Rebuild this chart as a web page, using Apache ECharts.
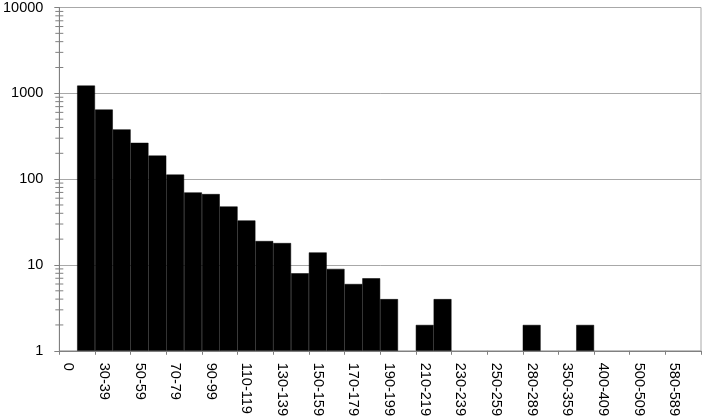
<!DOCTYPE html>
<html>
<head>
<meta charset="utf-8">
<script src="https://cdn.jsdelivr.net/npm/echarts@6/dist/echarts.min.js"></script>
<style>
html,body{margin:0;padding:0;background:#fff;}
#main{width:703px;height:419px;}
</style>
</head>
<body>
<div id="main"></div>
<script>
const categories = ["0","20-29","30-39","40-49","50-59","60-69","70-79","80-89","90-99","100-109",
  "110-119","120-129","130-139","140-149","150-159","160-169","170-179","180-189","190-199","200-209",
  "210-219","220-229","230-239","240-249","250-259","260-279","280-289","290-349","350-359","360-399",
  "400-409","410-499","500-509","510-579","580-589","590+"];
const counts = [null,1230,647,380,265,188,113,70,67,48,
  33,19,18,8,14,9,6,7,4,null,
  2,4,null,null,null,null,2,null,null,2,
  null,null,null,null,null,null];
const yTicks = [1,10,100,1000,10000];
const minorMultipliers = [2,3,4,5,6,7,8,9];

const chart = echarts.init(document.getElementById('main'), null, {renderer:'canvas'});
const font = "'Liberation Sans', Arial, sans-serif";
chart.setOption({
  animation:false,
  grid:{left:58,right:2,top:6,bottom:67,show:true,borderColor:'#a8a8a8',borderWidth:1},
  xAxis:{
    type:'category',
    data:categories,
    boundaryGap:true,
    axisLine:{lineStyle:{color:'#808080',width:1}},
    axisTick:{show:true,length:4,lineStyle:{color:'#808080'}},
    axisLabel:{interval:1,rotate:-90,fontSize:14.5,fontFamily:font,color:'#000',margin:12}
  },
  yAxis:{
    type:'log',
    logBase:10,
    min:yTicks[0],
    max:yTicks[yTicks.length-1],
    axisLine:{show:true,lineStyle:{color:'#808080',width:1}},
    axisTick:{show:true,length:5,lineStyle:{color:'#808080'}},
    axisLabel:{fontSize:14.5,fontFamily:font,color:'#000',margin:16,formatter:function(v){return String(Math.round(v));}},
    splitLine:{show:true,lineStyle:{color:'#a8a8a8',width:1}}
  },
  series:[{
    type:'bar',
    data:counts,
    barCategoryGap:'0%',
    itemStyle:{color:'#000',borderColor:'#000',borderWidth:0.5}
  }]
});

// minor ticks at 2..9 × each decade, positioned by the axis scale
const axisX = chart.getModel().getComponent('grid',0).coordinateSystem.getRect().x;
const elements = [];
for (let i=0;i<yTicks.length-1;i++){
  for (const m of minorMultipliers){
    const y = chart.convertToPixel({yAxisIndex:0}, yTicks[i]*m);
    elements.push({type:'line',shape:{x1:axisX-4,y1:y,x2:axisX+4,y2:y},style:{stroke:'#808080',lineWidth:1},silent:true});
  }
}
chart.setOption({graphic:{elements:elements}});
</script>
</body>
</html>
